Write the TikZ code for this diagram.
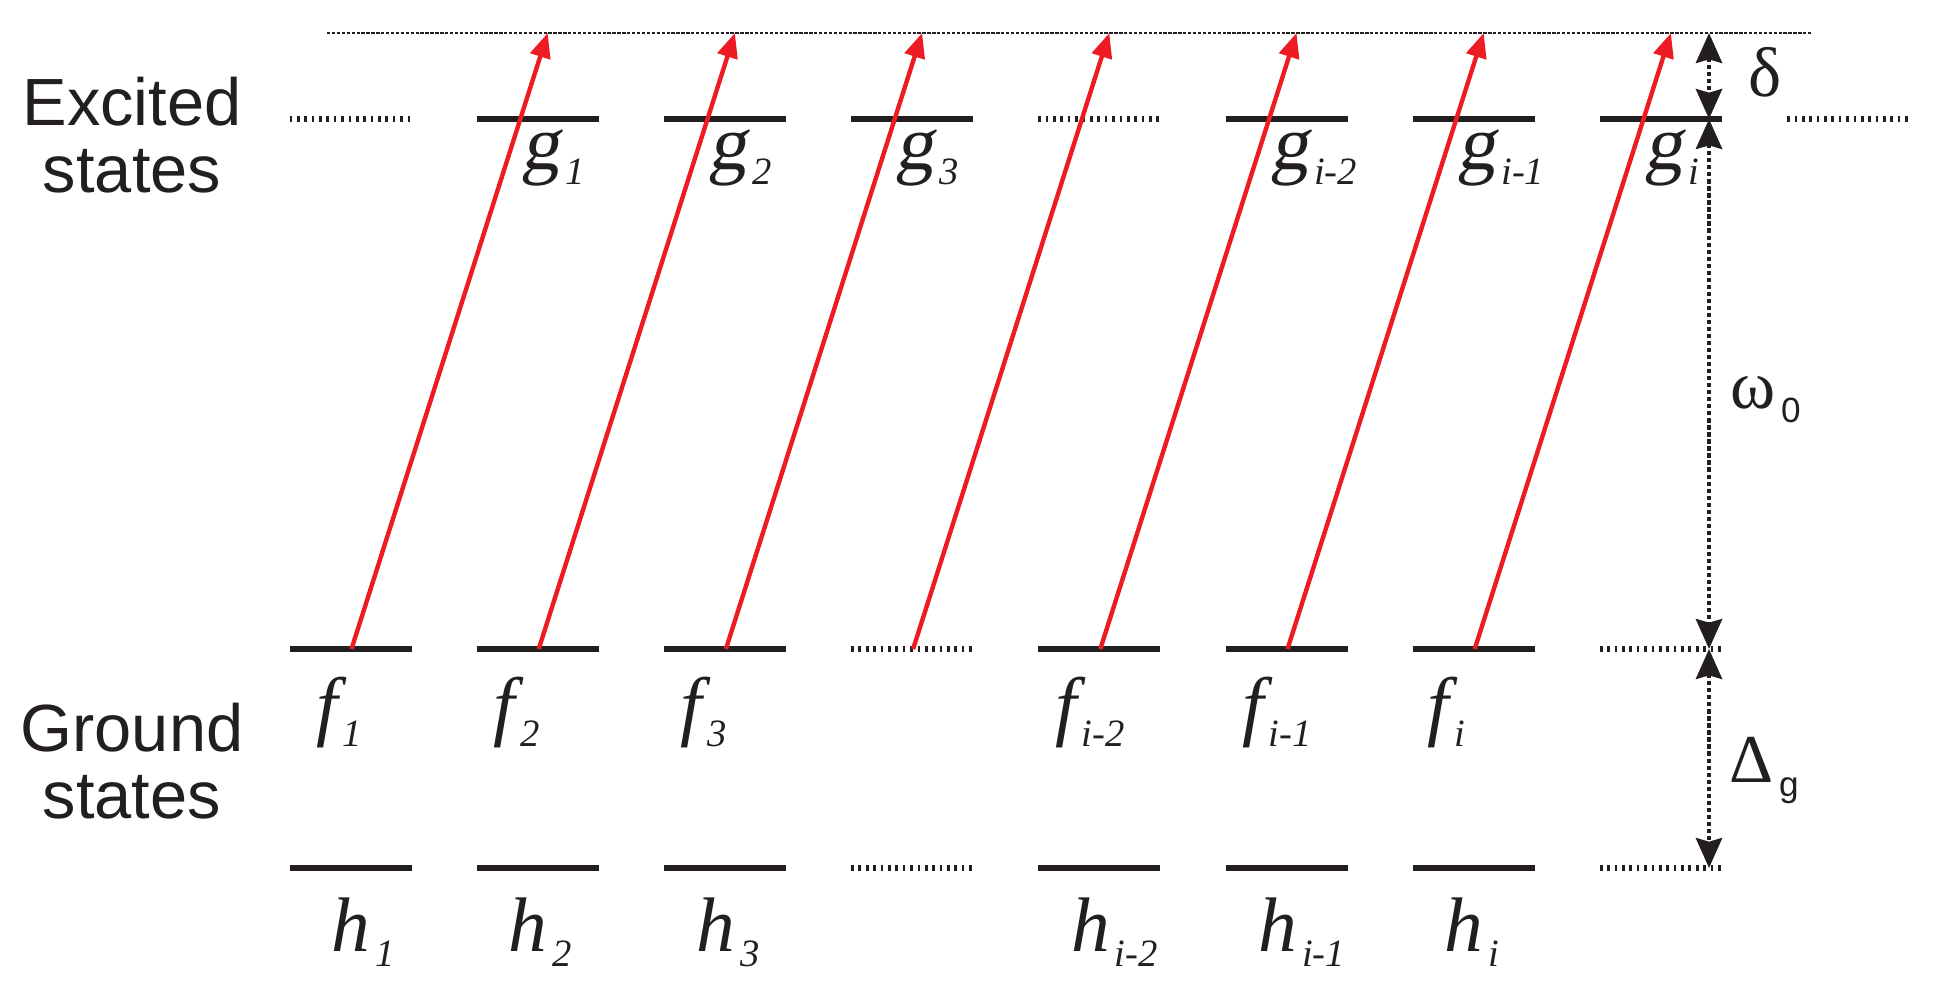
\documentclass[tikz,border=0pt]{standalone}
\usepackage{fontspec}
\setmainfont{Liberation Sans}
\newfontfamily\tnr{Liberation Serif}
\newfontfamily\tnrsl{Liberation Serif}[FakeSlant=0.17]
\usetikzlibrary{arrows.meta}
\definecolor{ink}{RGB}{35,31,32}
\definecolor{laser}{RGB}{237,28,36}
\newcommand{\sublab}[1]{\kern1.5pt\raisebox{-4.3pt}{\tnr\itshape\fontsize{11}{11}\selectfont #1}}
\newcommand{\lvlab}[2]{{\tnr\itshape\fontsize{22}{22}\selectfont #1}\sublab{#2}}
\newcommand{\glab}[1]{{\tnrsl\fontsize{22}{22}\selectfont g}\sublab{#1}}
\newcommand{\gsym}[2]{{\tnr\fontsize{19.5}{19.5}\selectfont #1}\kern1.5pt\raisebox{-4pt}{\fontsize{10}{10}\selectfont #2}}

\begin{document}
\begin{tikzpicture}[x=0.1mm,y=-0.1mm]
\tikzstyle{every node}+=[inner sep=0pt,text=ink]
\tikzstyle{level}=[draw=ink,line width=1.7pt]
\tikzstyle{gaplevel}=[draw=ink,line width=1.7pt,dash pattern=on 0.75pt off 1.35pt]
\tikzstyle{virtual}=[draw=ink,line width=0.75pt,dash pattern=on 0.95pt off 0.45pt]
\tikzstyle{pump}=[draw=laser,line width=1.25pt,-{Triangle[length=7pt,width=5.8pt]}]
\tikzstyle{span}=[draw=ink,line width=1.3pt,dash pattern=on 1.2pt off 0.8pt,{Stealth[length=8.5pt,width=7.4pt,inset=1pt]}-{Stealth[length=8.5pt,width=7.4pt,inset=1pt]}]
\useasboundingbox (0,0) rectangle (1935,994);

% virtual level
\coordinate (vl) at (327,33);
\coordinate (vr) at (1812,33);
\draw[virtual] (vl) -- (vr);

% excited levels
\foreach \k in {1,2,3,5,6,7}
  \draw[level] ({350.5+187.2*\k-61},119) -- ++(122,0);
\foreach \k in {0,4,8}
  \draw[gaplevel] ({350.5+187.2*\k-61},119) -- ++(122,0);

% ground levels
\foreach \k in {0,1,2,4,5,6}{
  \draw[level] ({350.5+187.2*\k-61},649) -- ++(122,0);
  \draw[level] ({350.5+187.2*\k-61},868) -- ++(122,0);
}
\foreach \k in {3,7}{
  \draw[gaplevel] ({350.5+187.2*\k-61},649) -- ++(122,0);
  \draw[gaplevel] ({350.5+187.2*\k-61},868) -- ++(122,0);
}

% pump arrows
\foreach \k in {0,...,6}{
  \coordinate (f\k) at ({351.5+187.2*\k},649);
  \coordinate (t\k) at ({547.7+187.2*\k},33);
  \draw[pump] (f\k) -- (t\k);
}

% splittings
\coordinate (d0) at (1709,33);
\coordinate (d1) at (1709,119);
\coordinate (d2) at (1709,649);
\coordinate (d3) at (1709,868);
\draw[span] (d0) -- (d1);
\draw[span] (d1) -- (d2);
\draw[span] (d2) -- (d3);

% labels
\foreach \k/\s in {1/1,2/2,3/3,5/i-2,6/i-1,7/i}
  \node[anchor=base west] (g\k) at ({350.5+187.2*\k-17},169) {\glab{\s}};
\foreach \k/\s/\dx in {0/1/-35,1/2/-45,2/3/-45,4/i-2/-45,5/i-1/-45,6/i/-47}
  \node[anchor=base west] (fl\k) at ({350.5+187.2*\k+\dx},731) {\lvlab{f}{\s}};
\foreach \k/\s/\dx in {0/1/-20,1/2/-30,2/3/-29,4/i-2/-29,5/i-1/-29,6/i/-30}
  \node[anchor=base west] (hl\k) at ({350.5+187.2*\k+\dx},951) {\lvlab{h}{\s}};

\node (dlt) at (1765,72) {\tnr\fontsize{20}{20}\selectfont δ};
\node[anchor=base west] (om) at (1730,408) {\gsym{ω}{0}};
\node[anchor=base west] (dg) at (1729,782) {\gsym{Δ}{g}};

\node[anchor=base,align=center,font=\fontsize{19}{19}\selectfont] (exc) at (132,192) {Excited\\states};
\node[anchor=base,align=center,font=\fontsize{19}{19}\selectfont] (gnd) at (132,818) {Ground\\states};
\end{tikzpicture}
\end{document}
